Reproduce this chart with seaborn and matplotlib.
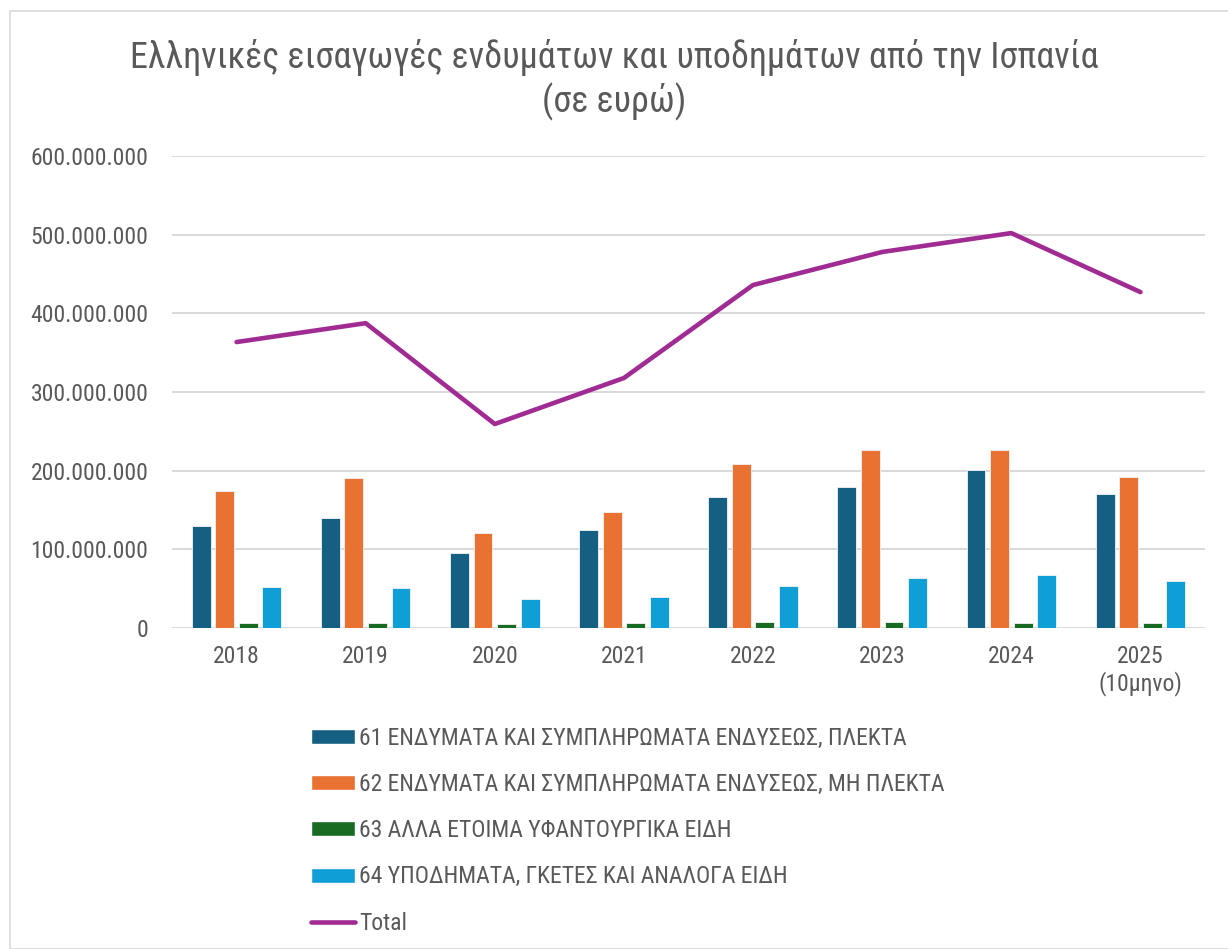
import matplotlib
matplotlib.use("Agg")
import matplotlib.pyplot as plt
from matplotlib import font_manager
from matplotlib.patches import Rectangle
from matplotlib.lines import Line2D
import seaborn as sns
import pandas as pd
import numpy as np

years = ["2018", "2019", "2020", "2021", "2022", "2023", "2024", "2025\n(10μηνο)"]
series_names = [
    "61 ΕΝΔΥΜΑΤΑ ΚΑΙ ΣΥΜΠΛΗΡΩΜΑΤΑ ΕΝΔΥΣΕΩΣ, ΠΛΕΚΤΑ",
    "62 ΕΝΔΥΜΑΤΑ ΚΑΙ ΣΥΜΠΛΗΡΩΜΑΤΑ ΕΝΔΥΣΕΩΣ, ΜΗ ΠΛΕΚΤΑ",
    "63 ΑΛΛΑ ΕΤΟΙΜΑ ΥΦΑΝΤΟΥΡΓΙΚΑ ΕΙΔΗ",
    "64 ΥΠΟΔΗΜΑΤΑ, ΓΚΕΤΕΣ ΚΑΙ ΑΝΑΛΟΓΑ ΕΙΔΗ",
]
s61 = [129.7e6, 139.4e6, 95.8e6, 124.6e6, 166.5e6, 179.7e6, 201.3e6, 170.3e6]
s62 = [174.6e6, 190.3e6, 121.2e6, 147.0e6, 208.5e6, 226.3e6, 226.3e6, 191.5e6]
s63 = [6.8e6, 6.4e6, 4.7e6, 5.9e6, 8.1e6, 8.1e6, 6.8e6, 6.4e6]
s64 = [52.5e6, 50.8e6, 36.9e6, 39.4e6, 53.4e6, 63.1e6, 67.4e6, 59.7e6]
total = [363.5e6, 387.5e6, 259.3e6, 317.8e6, 436.0e6, 478.0e6, 502.0e6, 427.0e6]
total_label = "Total"

colors = ["#156082", "#E97132", "#196B24", "#0F9ED5"]
line_color = "#A02B93"
text_color = "#595959"

sns.set_theme(style="white")
avail = {f.name for f in font_manager.fontManager.ttflist}
fam = [f for f in ["Liberation Sans Narrow", "Roboto Condensed", "Open Sans", "DejaVu Sans"] if f in avail]
plt.rcParams["font.family"] = fam + ["DejaVu Sans"]

long = pd.DataFrame({
    "year": np.repeat(years, 4),
    "series": series_names * len(years),
    "value": np.ravel(np.column_stack([s61, s62, s63, s64])),
})
tot = pd.DataFrame({"x": np.arange(len(years)), "total": total})

fig = plt.figure(figsize=(12.28, 9.49), dpi=100)
ax = fig.add_axes([172 / 1228, 1 - 628 / 949, (1205 - 172) / 1228, (628 - 156) / 949])

sns.barplot(data=long, x="year", y="value", hue="series", order=years,
            hue_order=series_names, palette=colors, saturation=1, width=0.73, gap=0.2,
            edgecolor="#f4f4f4", linewidth=0.6, ax=ax, legend=False)
sns.lineplot(data=tot, x="x", y="total", color=line_color, linewidth=3.3,
             ax=ax, solid_capstyle="round", legend=False)

ax.set_xlim(-0.5, len(years) - 0.5)
ax.set_ylim(0, 600e6)
ax.set_yticks(np.arange(0, 600e6 + 1, 100e6))
ax.set_yticklabels([f"{v:,.0f}".replace(",", ".") for v in np.arange(0, 600e6 + 1, 100e6)])
ax.set_xticks(range(len(years)))
ax.set_xticklabels(years)
ax.set_xlabel("")
ax.set_ylabel("")
ax.yaxis.grid(True, color="#d9d9d9", linewidth=1.4)
ax.set_axisbelow(True)
for s in ["top", "right", "left", "bottom"]:
    ax.spines[s].set_visible(False)
ax.tick_params(axis="both", length=0, colors=text_color, labelsize=17)
ax.tick_params(axis="y", pad=17)
ax.tick_params(axis="x", pad=12)

fig.text(0.5, 1 - 57 / 949, "Ελληνικές εισαγωγές ενδυμάτων και υποδημάτων από την Ισπανία",
         ha="center", va="center", fontsize=26, color=text_color)
fig.text(0.5, 1 - 102 / 949, "(σε ευρώ)", ha="center", va="center", fontsize=26, color=text_color)

handles = [Rectangle((0, 0), 1, 1, facecolor=c) for c in colors]
handles.append(Line2D([0], [0], color=line_color, linewidth=3.3, solid_capstyle="round"))
labels = series_names + [total_label]
fig.legend(handles, labels, loc="upper left", bbox_to_anchor=(311 / 1228, 1 - 727 / 949),
           frameon=False, fontsize=17, labelcolor=text_color, handlelength=1.85,
           handleheight=0.6, handletextpad=0.2, labelspacing=0.98, borderaxespad=0,
           borderpad=0)

fig.patches.append(Rectangle((10 / 1228, 0), 1.0, 1 - 11 / 949, transform=fig.transFigure,
                             fill=False, edgecolor="#d9d9d9", linewidth=1.2))

fig.savefig("out.png", dpi=100)
